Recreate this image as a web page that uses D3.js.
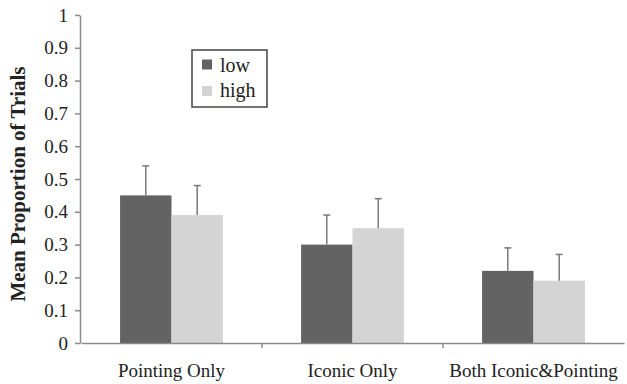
<!DOCTYPE html>
<html>
<head>
<meta charset="utf-8">
<script src="https://cdn.jsdelivr.net/npm/d3@7"></script>
<style>
  body { margin: 0; background: #fff; }
</style>
</head>
<body>
<div id="chart"></div>
<script>
const width = 627;
const height = 384;
const serif = "'Liberation Serif', 'Times New Roman', Times, serif";

// data
const categories = ["Pointing Only", "Iconic Only", "Both Iconic&Pointing"];
const series = ["low", "high"];
const lowValues = [0.45, 0.30, 0.22];
const highValues = [0.39, 0.35, 0.19];
const lowErrors = [0.09, 0.09, 0.07];
const highErrors = [0.09, 0.09, 0.08];
const yTicks = [0, 0.1, 0.2, 0.3, 0.4, 0.5, 0.6, 0.7, 0.8, 0.9, 1];
const colors = ["#636363", "#d4d4d4"];

const rows = categories.map((c, i) => ({
  category: c,
  values: [
    { key: "low", value: lowValues[i], err: lowErrors[i] },
    { key: "high", value: highValues[i], err: highErrors[i] }
  ]
}));

const margin = { top: 15, right: 3, bottom: 41, left: 81 };

const svg = d3.select("#chart")
  .append("svg")
  .attr("width", width)
  .attr("height", height)
  .style("font-family", serif);

const x0 = d3.scaleBand()
  .domain(categories)
  .range([margin.left, width - margin.right]);

const x1 = d3.scaleBand()
  .domain(series)
  .range([0, x0.bandwidth()])
  .paddingOuter(0.76);

const y = d3.scaleLinear()
  .domain([0, 1])
  .range([height - margin.bottom, margin.top]);

const color = d3.scaleOrdinal().domain(series).range(colors);

// bars
const groups = svg.selectAll("g.group")
  .data(rows)
  .join("g")
  .attr("class", "group")
  .attr("transform", d => `translate(${x0(d.category)},0)`);

groups.selectAll("rect")
  .data(d => d.values)
  .join("rect")
  .attr("x", d => x1(d.key))
  .attr("y", d => y(d.value))
  .attr("width", x1.bandwidth())
  .attr("height", d => y(0) - y(d.value))
  .attr("fill", d => color(d.key));

// error bars (upper only)
const err = groups.selectAll("g.err")
  .data(d => d.values)
  .join("g")
  .attr("class", "err")
  .attr("stroke", "#7a7a7a")
  .attr("stroke-width", 1.5);

err.append("line")
  .attr("x1", d => x1(d.key) + x1.bandwidth() / 2)
  .attr("x2", d => x1(d.key) + x1.bandwidth() / 2)
  .attr("y1", d => y(d.value))
  .attr("y2", d => y(d.value + d.err));

err.append("line")
  .attr("x1", d => x1(d.key) + x1.bandwidth() / 2 - 3.5)
  .attr("x2", d => x1(d.key) + x1.bandwidth() / 2 + 3.5)
  .attr("y1", d => y(d.value + d.err))
  .attr("y2", d => y(d.value + d.err));

// y axis
const yAxis = svg.append("g")
  .attr("transform", `translate(${margin.left - 1},0)`)
  .call(d3.axisLeft(y)
    .tickValues(yTicks)
    .tickFormat(d => String(d))
    .tickSize(5)
    .tickPadding(7)
    .tickSizeOuter(0))
  .attr("font-family", serif)
  .attr("font-size", 19);

yAxis.select(".domain").attr("stroke", "#8a8a8a").attr("stroke-width", 1.5);
yAxis.selectAll(".tick line").attr("stroke", "#8a8a8a").attr("stroke-width", 1.5);
yAxis.selectAll(".tick text")
  .attr("fill", "#222")
  .style("font-family", serif)
  .style("font-size", "19px");

// x axis
const xAxis = svg.append("g")
  .attr("transform", `translate(0,${y(0)})`)
  .call(d3.axisBottom(x0)
    .tickSize(0)
    .tickPadding(21)
    .tickSizeOuter(0))
  .attr("font-family", serif)
  .attr("font-size", 19);

xAxis.select(".domain").attr("stroke", "#8a8a8a").attr("stroke-width", 1.5);
xAxis.selectAll(".tick text")
  .attr("fill", "#222")
  .style("font-family", serif)
  .style("font-size", "19px");

// category boundary ticks
xAxis.selectAll("line.sep")
  .data(categories.slice(1))
  .join("line")
  .attr("class", "sep")
  .attr("x1", d => x0(d))
  .attr("x2", d => x0(d))
  .attr("y1", 0)
  .attr("y2", 5)
  .attr("stroke", "#8a8a8a")
  .attr("stroke-width", 1.5);

// y title
svg.append("text")
  .attr("transform", `translate(25,${(y(0) + y(1)) / 2 + 5}) rotate(-90)`)
  .attr("text-anchor", "middle")
  .attr("fill", "#222")
  .style("font-family", serif)
  .style("font-size", "21px")
  .style("font-weight", "bold")
  .text("Mean Proportion of Trials");

// legend
const legend = svg.append("g")
  .attr("transform", "translate(192,50)");

legend.append("rect")
  .attr("width", 75)
  .attr("height", 57)
  .attr("fill", "#fff")
  .attr("stroke", "#444")
  .attr("stroke-width", 1.5);

series.forEach((s, i) => {
  legend.append("rect")
    .attr("x", 10)
    .attr("y", 9.5 + i * 26.5)
    .attr("width", 10)
    .attr("height", 10)
    .attr("fill", color(s));

  legend.append("text")
    .attr("x", 28)
    .attr("y", 21.5 + i * 25.5)
    .attr("fill", "#222")
    .style("font-family", serif)
    .style("font-size", "20px")
    .text(s);
});
</script>
</body>
</html>
